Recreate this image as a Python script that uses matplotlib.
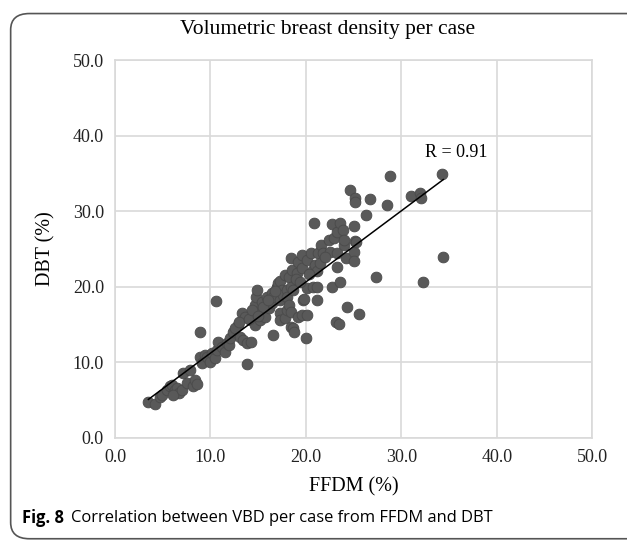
import numpy as np
import matplotlib.pyplot as plt
from matplotlib.patches import FancyBboxPatch

# FFDM (%) vs DBT (%) volumetric breast density
ffdm = [3.5, 4.2, 4.7, 4.9, 5.4, 5.8, 6.0, 6.3, 6.5, 6.7, 6.1, 7.0, 7.1, 7.5, 7.9,
        8.2, 8.4, 8.6, 8.9, 8.9, 9.1, 9.4, 9.6, 10.0, 10.2, 10.5, 10.6, 10.7, 10.8,
        11.2, 11.5, 11.7, 11.9, 12.1, 12.4, 12.9, 13.1, 13.3, 13.4, 13.6, 13.8, 13.8,
        14.2, 14.2, 14.7, 14.7, 14.8, 14.9, 14.9, 15.2, 15.4, 15.7, 15.9, 16.1, 16.5,
        16.5, 16.6, 16.6, 17.0, 17.0, 17.1, 17.3, 17.3, 17.3, 17.3, 17.5, 17.6, 17.8,
        17.8, 18.0, 18.0, 18.0, 18.2, 18.2, 18.4, 18.4, 18.4, 18.4, 18.6, 18.7, 18.7,
        18.8, 19.1, 19.2, 19.2, 19.6, 19.6, 19.6, 19.7, 19.8, 20.0, 20.1, 20.1, 20.1,
        20.5, 20.7, 20.8, 20.9, 21.0, 21.2, 21.2, 21.2, 21.3, 21.6, 21.8, 22.4, 22.5,
        22.7, 22.7, 22.9, 23.2, 23.3, 23.3, 23.3, 23.5, 23.6, 23.6, 23.9, 24.0, 24.0,
        24.2, 24.3, 24.6, 25.0, 25.0, 25.0, 25.1, 25.2, 25.2, 25.3, 25.6, 26.3, 26.7,
        27.3, 28.5, 28.8, 31.0, 32.0, 32.1, 32.3, 34.3, 34.4,
        12.6, 13.0, 14.0, 14.4, 15.5, 15.0, 16.0, 16.8, 19.0, 19.4, 20.3, 21.5, 22.0]
dbt = [4.8, 4.5, 5.4, 5.7, 6.3, 6.9, 7.0, 6.3, 6.6, 6.0, 5.7, 6.3, 8.6, 7.3, 9.0,
       6.9, 7.7, 7.1, 10.7, 14.0, 9.9, 11.0, 10.7, 10.1, 11.2, 10.6, 18.1, 11.6, 12.7,
       12.0, 11.4, 12.6, 12.3, 13.2, 14.0, 14.9, 13.4, 16.5, 13.0, 16.0, 12.6, 9.8,
       12.7, 15.6, 14.9, 17.6, 18.7, 19.6, 16.7, 15.6, 18.0, 16.0, 18.7, 17.2, 19.2,
       17.9, 13.6, 18.7, 20.0, 19.8, 20.5, 16.5, 15.6, 18.3, 20.8, 19.6, 18.9, 15.9,
       21.6, 16.9, 19.6, 18.7, 17.6, 21.3, 16.7, 14.7, 20.0, 23.8, 22.2, 19.6, 14.5,
       14.0, 21.8, 23.3, 16.0, 22.5, 24.2, 16.3, 18.2, 18.4, 13.2, 23.5, 19.8, 16.3,
       24.5, 22.2, 20.0, 28.4, 22.9, 22.1, 20.0, 18.2, 24.5, 25.5, 24.5, 26.2, 24.6,
       28.3, 20.0, 26.5, 15.3, 27.2, 24.5, 22.6, 15.1, 28.4, 20.6, 27.5, 25.5, 26.2,
       23.8, 17.3, 32.8, 28.0, 24.6, 23.4, 31.7, 31.2, 26.1, 25.9, 16.4, 29.5, 31.6,
       21.3, 30.9, 34.7, 32.0, 32.4, 31.7, 20.6, 34.9, 24.0,
       14.6, 15.4, 15.8, 16.9, 17.4, 16.2, 18.3, 19.5, 21.0, 20.6, 21.7, 23.2, 23.9]
ticks = [0, 10, 20, 30, 40, 50]
r_value = 0.91

serif = ['Liberation Serif', 'DejaVu Serif']

fig = plt.figure(figsize=(6.27, 5.42), dpi=100)
ax = fig.add_axes([0.1834, 0.1919, 0.761, 0.697])

ax.scatter(ffdm, dbt, s=60, color='#595959', edgecolors='#4a4a4a', linewidths=0.6, zorder=3)

# linear trend line over the data range
slope, icpt = np.polyfit(ffdm, dbt, 1)
xs = np.array([min(ffdm), max(ffdm)])
ax.plot(xs, slope * xs + icpt, color='black', lw=1.1, zorder=4)

ax.set_xlim(0, 50)
ax.set_ylim(0, 50)
ax.set_xticks(ticks)
ax.set_yticks(ticks)
ax.set_xticklabels([f'{t:.1f}' for t in ticks], family=serif, fontsize=13)
ax.set_yticklabels([f'{t:.1f}' for t in ticks], family=serif, fontsize=13)
ax.tick_params(length=0, pad=8, colors='#222222')
ax.grid(True, color='#d9d9d9', lw=1.2)
ax.set_axisbelow(True)
for sp in ax.spines.values():
    sp.set_color('#d9d9d9')
    sp.set_linewidth(1.2)

ax.set_xlabel('FFDM (%)', family=serif, fontsize=14.5, labelpad=8)
ax.set_ylabel('DBT (%)', family=serif, fontsize=14.5, labelpad=12)
ax.text(32.5, 37.8, f'R = {r_value}', family=serif, fontsize=13, va='center')

fig.text(0.523, 0.945, 'Volumetric breast density per case', family=serif,
         fontsize=15.5, ha='center', va='center')

# caption and frame
lab = fig.text(0.035, 0.045, 'Fig. 8', family='Open Sans', fontsize=11.9, weight='bold',
               ha='left', va='center')
fig.text(0.0, 0.0, 'Correlation between VBD per case from FFDM and DBT',
         family='Open Sans', fontsize=11.9, ha='left', va='center')
fig.texts[-1].set_position((0.035, 0.045))
fig.canvas.draw()
bb = lab.get_window_extent().transformed(fig.transFigure.inverted())
fig.texts[-1].set_position((bb.x1 + 0.012, 0.045))

box = FancyBboxPatch((0.017, 0.006), 1.2, 0.969, transform=fig.transFigure,
                     boxstyle='round,pad=0,rounding_size=0.03', fill=False,
                     edgecolor='#555555', lw=1.2, clip_on=False)
fig.patches.append(box)

fig.savefig('out.png', dpi=100)
